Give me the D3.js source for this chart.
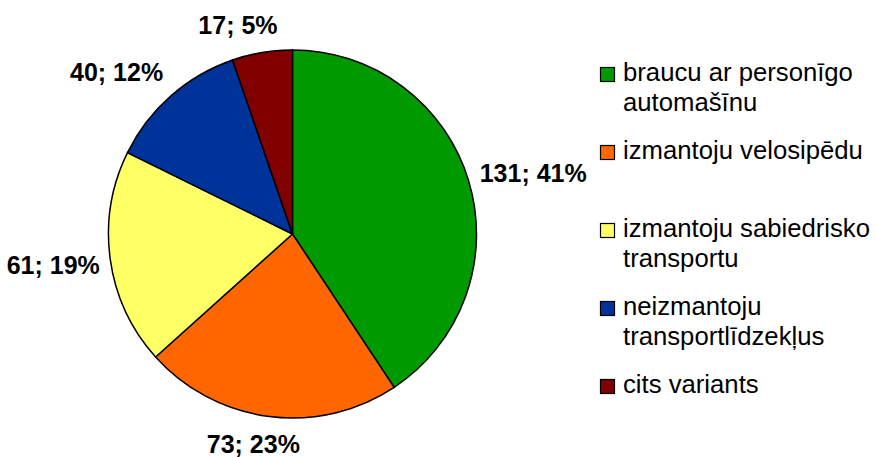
<!DOCTYPE html>
<html>
<head>
<meta charset="utf-8">
<script src="https://cdn.jsdelivr.net/npm/d3@7"></script>
<style>
  html, body { margin: 0; padding: 0; background: #fff; }
  svg { display: block; }
  .slice { stroke: #000; stroke-width: 1.5; }
  .pie_label { font-family: 'Liberation Sans', Arial, sans-serif; font-weight: bold; font-size: 25px; fill: #000; }
  .legend_text { font-family: 'Liberation Sans', Arial, sans-serif; font-size: 25.7px; fill: #000; }
  .legend_box { stroke: #000; stroke-width: 1.2; }
</style>
</head>
<body>
<div id="graphic"></div>
<script>
// categories (legend lines) and values
const categories = [
  ['braucu ar personīgo', 'automašīnu'],
  ['izmantoju velosipēdu'],
  ['izmantoju sabiedrisko', 'transportu'],
  ['neizmantoju', 'transportlīdzekļus'],
  ['cits variants']
];
const counts = [131, 73, 61, 40, 17];
const colors = ['#009900', '#ff6600', '#ffff66', '#003399', '#800000'];

// small manual drags of the data labels, like in the original sheet
const labelNudge = [[-2, -1], [-8, 3], [5, 3], [-13, -5], [-15, -3]];

const width = 876;
const height = 457;
const cx = 292.5, cy = 234, radius = 184;

const svg = d3.select('#graphic').append('svg')
  .attr('width', width)
  .attr('height', height);

const total = d3.sum(counts);
const data = counts.map((v, i) => ({ value: v, color: colors[i], lines: categories[i], nudge: labelNudge[i] }));

const pie = d3.pie().sort(null).value(d => d.value);
const arc = d3.arc().innerRadius(0).outerRadius(radius);
const arcs = pie(data);

const g = svg.append('g').attr('transform', 'translate(' + cx + ',' + cy + ')');

g.selectAll('.slice')
  .data(arcs)
  .enter().append('path')
  .attr('class', 'slice')
  .attr('d', arc)
  .attr('fill', d => d.data.color);

// labels: outside end, pushed out along the mid angle
const pad = 16;
const capH = 25 * 0.716;
g.selectAll('.pie_label')
  .data(arcs)
  .enter().append('text')
  .attr('class', 'pie_label')
  .attr('text-anchor', 'middle')
  .text(d => d.data.value + '; ' + Math.round(d.data.value / total * 100) + '%')
  .each(function(d) {
    const a = (d.startAngle + d.endAngle) / 2;
    const s = Math.sin(a), c = Math.cos(a);
    const w = this.getComputedTextLength();
    const x = (radius + pad) * s + s * w / 2 + d.data.nudge[0];
    const y = -(radius + pad) * c - c * capH / 2 + d.data.nudge[1];
    d3.select(this).attr('x', x).attr('y', y + capH / 2);
  });

// legend
const legendX = 600;
const legendTop = 81;
const legendStep = 78;
const lineHeight = 30;
const boxSize = 14;

const legend = svg.selectAll('.legend')
  .data(data)
  .enter().append('g')
  .attr('class', 'legend')
  .attr('transform', (d, i) => 'translate(' + legendX + ',' + (legendTop + i * legendStep) + ')');

legend.append('rect')
  .attr('class', 'legend_box')
  .attr('x', 0.5)
  .attr('y', -boxSize + 0.5)
  .attr('width', boxSize)
  .attr('height', boxSize)
  .attr('fill', d => d.color);

legend.append('text')
  .attr('class', 'legend_text')
  .attr('x', 23)
  .selectAll('tspan')
  .data(d => d.lines)
  .enter().append('tspan')
  .attr('x', 23)
  .attr('y', (d, i) => i * lineHeight)
  .text(d => d);
</script>
</body>
</html>
